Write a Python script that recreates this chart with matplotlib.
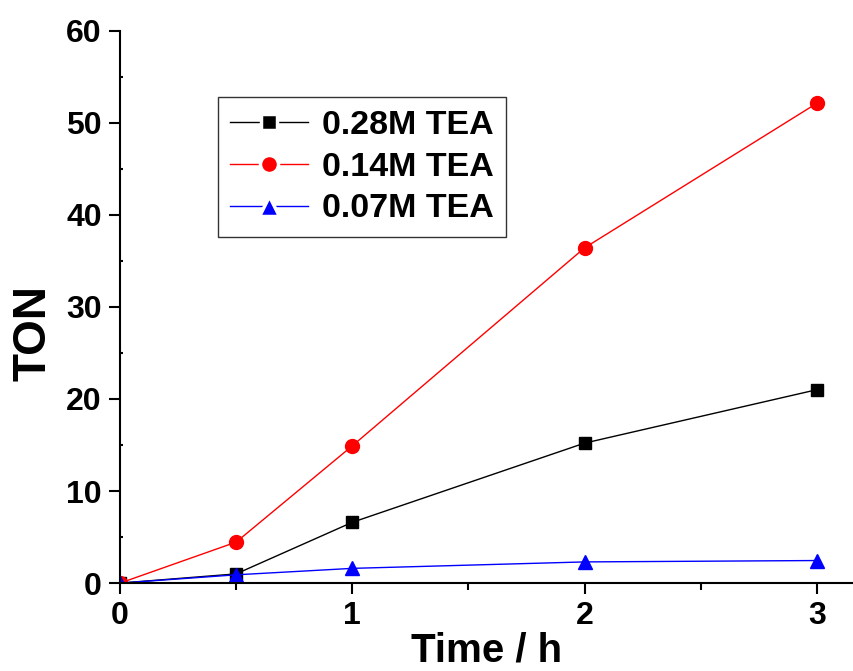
import matplotlib.pyplot as plt
from matplotlib.lines import Line2D
from matplotlib.ticker import MultipleLocator

plt.rcParams['font.family'] = ['Liberation Sans', 'DejaVu Sans']
plt.rcParams['font.weight'] = 'bold'

# data
time_h = [0, 0.5, 1, 2, 3]
ton_028 = [0, 1.0, 6.6, 15.2, 21.0]
ton_014 = [0, 4.45, 14.9, 36.4, 52.1]
ton_007 = [0, 0.9, 1.6, 2.3, 2.45]
labels = ['0.28M TEA', '0.14M TEA', '0.07M TEA']
colors = ['black', 'red', 'blue']
markers = ['s', 'o', '^']

fig = plt.figure(figsize=(8.54, 6.71), dpi=100)
ax = fig.add_axes([0.1405, 0.131, 0.8595, 0.8235])

ax.plot(time_h, ton_028, color=colors[0], lw=1, marker=markers[0], ms=9)
ax.plot(time_h, ton_014, color=colors[1], lw=1, marker=markers[1], ms=10)
ax.plot(time_h, ton_007, color=colors[2], lw=1, marker=markers[2], ms=10)

ax.set_xlim(0, 3.16)
ax.set_ylim(0, 60)
ax.xaxis.set_major_locator(MultipleLocator(1))
ax.xaxis.set_minor_locator(MultipleLocator(0.5))
ax.yaxis.set_major_locator(MultipleLocator(10))
ax.yaxis.set_minor_locator(MultipleLocator(5))

ax.spines['top'].set_visible(False)
ax.spines['right'].set_visible(False)
for s in ['left', 'bottom']:
    ax.spines[s].set_linewidth(1.5)

ax.tick_params(which='major', direction='out', length=8, width=1.5, labelsize=23, pad=5)
ax.tick_params(axis='x', which='minor', direction='out', length=5, width=1.5)
ax.tick_params(axis='y', which='minor', direction='in', length=2, width=1.5)
for t in ax.get_xticklabels() + ax.get_yticklabels():
    t.set_fontweight('bold')

ax.set_xlabel('Time / h', fontsize=29, fontweight='bold', labelpad=0)
ax.set_ylabel('TON', fontsize=33, fontweight='bold', va='center')
ax.yaxis.set_label_coords(-0.118, 0.453)

# legend handles: marker sits in a gap of the line, as in the original
handles = [Line2D([], [], color=c, lw=1, marker=m, ms=s, mfc=c,
                  mec='white', mew=2.5)
           for c, m, s in zip(colors, markers, [12, 13, 15])]
leg = ax.legend(handles, labels, loc='upper left', bbox_to_anchor=(0.1335, 0.879),
                borderaxespad=0, frameon=True, fancybox=False, edgecolor='black',
                handlelength=2.3, handletextpad=0.4, labelspacing=0.32,
                borderpad=0.36, prop={'weight': 'bold', 'size': 24.5})
leg.get_frame().set_linewidth(1)

fig.savefig('out.png', dpi=100)
